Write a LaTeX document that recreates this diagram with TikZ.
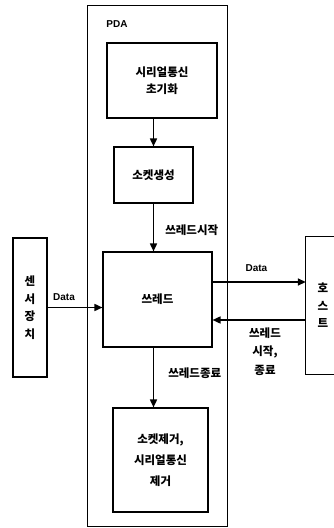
\documentclass[tikz,border=0pt]{standalone}
\usepackage{fontspec}
\setmainfont{Liberation Sans}
\newfontfamily\krfont{Noto Sans CJK KR}
\usetikzlibrary{arrows.meta,positioning}

\begin{document}
\begin{tikzpicture}[
  x=1pt,y=-1pt,
  every node/.style={font=\krfont\bfseries\fontsize{11.5}{17}\selectfont},
  procbox/.style={draw,line width=1.1pt,align=center,inner sep=0pt},
  sidebox/.style={align=center,inner sep=0pt,
                  font=\krfont\bfseries\fontsize{11.5}{17.5}\selectfont},
  flow/.style={-{Triangle[length=8pt,width=7pt]},line width=1.6pt},
  lbl/.style={inner sep=0pt,align=center},
  latin/.style={font=\bfseries\fontsize{10}{12}\selectfont},
]
  \useasboundingbox (0,0) rectangle (333,528);

  % PDA frame
  \node[draw,line width=0.9pt,minimum width=140pt,minimum height=521pt,inner sep=0pt]
    (pda) at (157,265.5) {};
  \node[lbl,latin] (pdalbl) at (117,24) {PDA};

  % processing steps inside PDA
  \node[procbox,minimum width=110pt,minimum height=75pt] (init) at (162,80.5)
    {시리얼통신\\초기화};
  \node[procbox,minimum width=79pt,minimum height=56pt] (sock) at (153.5,175)
    {소켓생성};
  \node[procbox,minimum width=109pt,minimum height=95pt] (thread) at (157.5,299.5)
    {쓰레드};
  \node[procbox,minimum width=95pt,minimum height=104pt,
        font=\krfont\bfseries\fontsize{11.5}{21}\selectfont] (close) at (160.5,460)
    {소켓제거,\\시리얼통신\\제거};

  % devices outside PDA
  \node[sidebox,draw,line width=1.1pt,minimum width=34pt,minimum height=139pt]
    (sensor) at (30,307.5) {센\\서\\장\\치};
  \node[sidebox,minimum width=34pt,minimum height=137pt] (host) at (323,305.5)
    {호\\스\\트};
  \draw[line width=1.1pt] ([xshift=10pt]host.north east) -- (host.north west)
    -- (host.south west) -- ([xshift=10pt]host.south east);

  % flow inside PDA
  \draw[flow] (sock.north |- init.south) -- (sock.north);
  \draw[flow] (sock.south) -- (sock.south |- thread.north)
    node[lbl,pos=0.55,right=11pt] (startlbl) {쓰레드시작};
  \draw[flow] (sock.south |- thread.south) -- (sock.south |- close.north)
    node[lbl,pos=0.42,right=14pt] (endlbl) {쓰레드종료};

  % data exchange
  \draw[flow] (sensor.east) -- (thread.west |- sensor.east)
    node[lbl,latin,pos=0.3,above=6pt] (sdata) {Data};
  \coordinate (tout) at ([yshift=17.5pt]thread.east);
  \coordinate (tin) at ([yshift=-20.5pt]thread.east);
  \draw[flow] (tout) -- (host.west |- tout)
    node[lbl,latin,pos=0.47,above=10pt] (hdata) {Data};
  \draw[flow] (host.west |- tin) -- (tin);
  \node[lbl,font=\krfont\bfseries\fontsize{11.5}{18.5}\selectfont] (ctrl) at (265,351.5)
    {쓰레드\\시작,\\종료};
\end{tikzpicture}
\end{document}
